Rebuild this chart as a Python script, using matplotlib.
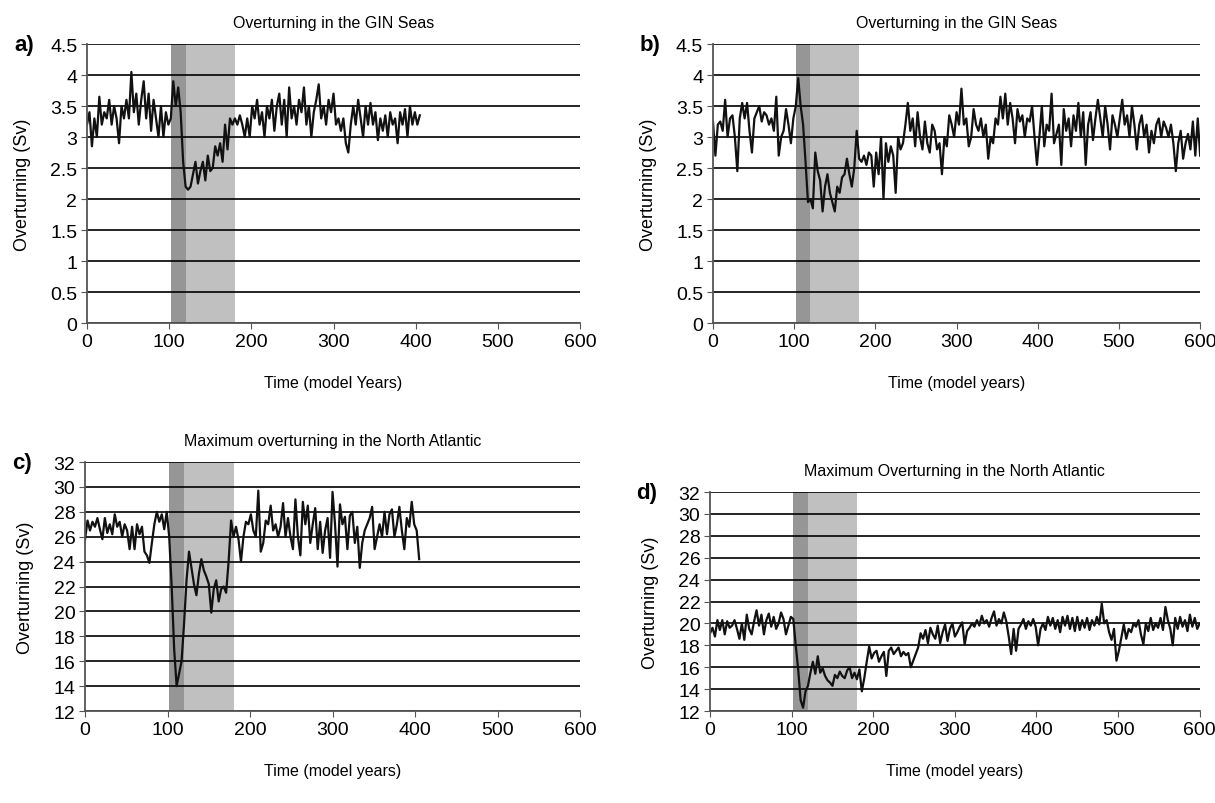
import numpy as np
import matplotlib
matplotlib.use("Agg")
import matplotlib.pyplot as plt

plt.rcParams['font.family'] = ['Liberation Sans', 'DejaVu Sans']

# overturning in the GIN seas, run a (every 3 model years)
gin_a = [3.2, 3.4, 2.85, 3.3, 3.0, 3.65, 3.2, 3.4, 3.3, 3.6, 3.2, 3.5, 3.3, 2.9, 3.5, 3.3,
         3.6, 3.3, 4.05, 3.4, 3.7, 3.2, 3.6, 3.9, 3.3, 3.7, 3.1, 3.6, 3.3, 3.0, 3.5, 3.0,
         3.4, 3.2, 3.3, 3.9, 3.5, 3.8, 3.4, 2.6, 2.2, 2.15, 2.2, 2.4, 2.6, 2.25, 2.45, 2.6,
         2.3, 2.7, 2.45, 2.5, 2.85, 2.7, 2.9, 2.6, 3.2, 2.8, 3.3, 3.2, 3.3, 3.2, 3.35, 3.2,
         3.0, 3.3, 3.0, 3.5, 3.3, 3.6, 3.2, 3.4, 3.0, 3.5, 3.3, 3.6, 3.1, 3.5, 3.7, 3.2,
         3.6, 3.0, 3.8, 3.3, 3.5, 3.2, 3.6, 3.4, 3.8, 3.2, 3.5, 3.0, 3.4, 3.6, 3.85, 3.3,
         3.5, 3.2, 3.6, 3.4, 3.7, 3.2, 3.3, 3.1, 3.3, 2.9, 2.75, 3.2, 3.5, 3.2, 3.6, 3.3,
         3.0, 3.5, 3.2, 3.55, 3.2, 3.4, 2.95, 3.3, 3.1, 3.35, 3.0, 3.4, 3.2, 3.3, 2.9, 3.4,
         3.2, 3.45, 3.0, 3.5, 3.2, 3.4, 3.2, 3.35]

# overturning in the GIN seas, run b
gin_b = [3.25, 2.7, 3.2, 3.25, 3.1, 3.6, 3.0, 3.3, 3.35, 3.0, 2.45, 3.3, 3.55, 3.3, 3.55, 3.1,
         2.75, 3.3, 3.4, 3.5, 3.25, 3.4, 3.35, 3.2, 3.3, 3.1, 3.65, 2.7, 3.0, 3.1, 3.45, 3.2,
         2.9, 3.3, 3.5, 3.95, 3.5, 3.2, 2.6, 1.95, 2.0, 1.85, 2.75, 2.45, 2.3, 1.8, 2.2, 2.4,
         2.1, 1.95, 1.8, 2.2, 2.1, 2.35, 2.4, 2.65, 2.4, 2.2, 2.5, 3.1, 2.65, 2.6, 2.7, 2.55,
         2.75, 2.7, 2.2, 2.75, 2.4, 3.0, 2.0, 2.9, 2.6, 2.85, 2.7, 2.1, 3.0, 2.8, 2.9, 3.2,
         3.55, 3.1, 3.3, 2.85, 3.4, 3.0, 2.8, 3.25, 2.9, 2.75, 3.2, 3.1, 2.8, 2.9, 2.4, 3.0,
         2.85, 3.35, 3.2, 3.0, 3.4, 3.2, 3.78, 3.2, 3.3, 2.85, 3.0, 3.45, 3.2, 3.1, 3.3, 3.0,
         3.2, 2.65, 3.0, 2.9, 3.3, 3.2, 3.65, 3.3, 3.7, 3.2, 3.55, 3.3, 2.9, 3.45, 3.25, 3.35,
         3.0, 3.3, 3.25, 3.5, 3.0, 2.55, 3.0, 3.5, 2.85, 3.2, 3.1, 3.7, 2.9, 3.05, 3.2, 2.55,
         3.45, 3.1, 3.3, 2.85, 3.35, 3.1, 3.55, 3.0, 3.4, 2.55, 3.2, 3.4, 2.95, 3.3, 3.6, 3.3,
         3.0, 3.5, 3.2, 2.8, 3.35, 3.2, 3.0, 3.3, 3.6, 3.2, 3.35, 3.0, 3.5, 3.2, 2.8, 3.2,
         3.35, 3.0, 3.2, 2.75, 3.1, 2.9, 3.2, 3.3, 3.0, 3.25, 3.15, 3.0, 3.2, 2.9, 2.45, 2.9,
         3.1, 2.65, 2.9, 3.05, 2.8, 3.25, 2.7, 3.3, 2.7]

# maximum overturning in the North Atlantic, run c
amoc_c = [25.8, 27.3, 26.5, 27.2, 26.8, 27.5, 26.6, 25.8, 27.5, 26.3, 27.0, 26.2, 27.8, 26.8,
          27.2, 26.0, 27.0, 26.5, 25.0, 26.8, 25.0, 27.0, 26.2, 26.8, 24.8, 24.5, 23.9, 25.5,
          27.0, 28.0, 27.2, 27.8, 26.6, 28.0, 26.0, 22.0, 17.0, 14.0, 15.0, 16.0, 19.0, 22.5,
          24.8, 23.5, 22.2, 21.3, 23.0, 24.2, 23.3, 22.8, 22.2, 19.9, 21.8, 22.5, 20.8, 21.8,
          22.0, 21.5, 24.0, 27.3, 26.0, 26.8, 25.8, 24.0, 26.0, 27.2, 27.0, 27.8, 26.5, 26.0,
          29.7, 24.8, 25.5, 27.3, 27.0, 28.5, 26.5, 27.0, 26.0, 26.8, 28.7, 26.0, 27.5, 26.0,
          25.0, 29.0, 26.0, 24.5, 28.8, 27.0, 28.5, 25.5, 27.0, 28.3, 25.0, 27.2, 24.7, 26.5,
          27.5, 24.3, 29.6, 27.0, 23.6, 28.6, 27.0, 27.6, 25.0, 27.7, 28.0, 25.5, 26.8, 23.5,
          25.5, 26.5, 27.0, 27.5, 28.4, 25.0, 26.0, 27.0, 26.0, 28.0, 26.2, 27.8, 28.2, 26.0,
          27.0, 28.4, 26.5, 25.0, 27.5, 26.8, 28.8, 27.0, 26.5, 24.2]

# maximum overturning in the North Atlantic, run d
amoc_d = [19.1, 19.6, 18.8, 20.3, 19.4, 20.3, 19.0, 20.2, 19.6, 19.8, 20.3, 19.5, 18.6, 20.0,
          18.5, 20.8, 19.5, 19.0, 20.2, 21.2, 19.8, 20.8, 19.0, 20.3, 20.9, 19.7, 20.6, 19.5,
          20.0, 21.0, 20.4, 19.0, 19.8, 20.6, 20.4, 18.0, 15.8, 13.0, 12.3, 13.8, 14.3, 15.5,
          16.5, 15.4, 17.0, 15.5, 15.9, 15.2, 14.8, 14.6, 14.3, 15.3, 15.0, 15.6, 15.2, 15.0,
          15.7, 16.0, 15.0, 15.5, 14.9, 15.8, 13.8, 15.0, 16.5, 17.9, 16.8, 17.3, 17.5, 16.5,
          17.0, 17.4, 15.2, 17.5, 17.8, 17.2, 17.5, 17.8, 17.0, 17.4, 17.1, 17.3, 16.0, 16.6,
          17.2, 17.8, 19.1, 18.6, 19.4, 18.2, 19.6, 19.0, 18.6, 19.8, 18.2, 19.2, 19.9, 18.4,
          19.5, 20.0, 18.8, 19.2, 19.7, 20.1, 18.1, 19.3, 19.6, 20.0, 19.7, 20.3, 19.8, 20.7,
          20.0, 20.3, 19.7, 20.5, 21.1, 19.8, 20.4, 20.0, 21.0, 20.2, 18.8, 17.2, 19.5, 17.5,
          19.5, 19.9, 20.4, 19.5, 20.2, 19.8, 20.4, 19.7, 18.0, 19.5, 20.0, 19.4, 20.6, 19.8,
          20.5, 19.5, 20.3, 19.2, 20.6, 19.8, 20.7, 19.5, 20.5, 19.3, 20.6, 19.4, 20.3, 19.6,
          20.5, 19.4, 20.3, 19.8, 20.6, 19.9, 21.8, 20.0, 20.3, 19.2, 18.5, 19.5, 16.6, 17.5,
          18.7, 19.9, 18.6, 19.5, 19.2, 20.0, 19.7, 20.3, 19.0, 18.1, 20.0, 19.3, 20.5, 19.4,
          20.0, 19.6, 20.5, 19.4, 21.5, 20.3, 19.5, 18.0, 20.5, 19.5, 20.6, 19.7, 20.3, 19.3,
          20.8, 19.7, 20.5, 19.5, 20.0]

step = 3
hosing = (102, 120)     # dark band
recovery = (120, 180)   # light band

panels = [
    ("a)", "Overturning in the GIN Seas", "Time (model Years)", gin_a,
     (0, 4.5), np.arange(0, 4.51, 0.5), ["0", "0.5", "1", "1.5", "2", "2.5", "3", "3.5", "4", "4.5"],
     [0.0716, 0.597, 0.4058, 0.347]),
    ("b)", "Overturning in the GIN Seas", "Time (model years)", gin_b,
     (0, 4.5), np.arange(0, 4.51, 0.5), ["0", "0.5", "1", "1.5", "2", "2.5", "3", "3.5", "4", "4.5"],
     [0.5868, 0.597, 0.401, 0.347]),
    ("c)", "Maximum overturning in the North Atlantic", "Time (model years)", amoc_c,
     (12, 32), np.arange(12, 33, 2), None,
     [0.070, 0.1144, 0.4074, 0.3097]),
    ("d)", "Maximum Overturning in the North Atlantic", "Time (model years)", amoc_d,
     (12, 32), np.arange(12, 33, 2), None,
     [0.5844, 0.1144, 0.403, 0.2724]),
]

fig = plt.figure(figsize=(12.15, 8.04), dpi=100)

for lab, title, xlab, vals, ylim, yt, ytl, pos in panels:
    ax = fig.add_axes(pos)
    years = np.arange(len(vals)) * step
    ax.axvspan(*hosing, color="#969696", lw=0)
    ax.axvspan(*recovery, color="#c0c0c0", lw=0)
    ax.plot(years, vals, color="#111111", lw=1.6)
    ax.set_xlim(0, 600)
    ax.set_ylim(*ylim)
    ax.set_xticks(np.arange(0, 601, 100))
    ax.set_yticks(yt)
    if ytl:
        ax.set_yticklabels(ytl)
    ax.yaxis.grid(True, color="black", lw=1.2)
    ax.tick_params(labelsize=14, direction="out", length=4, color="#555555", pad=3)
    for s in ["top", "right"]:
        ax.spines[s].set_visible(False)
    for s in ["left", "bottom"]:
        ax.spines[s].set_color("#555555")
        ax.spines[s].set_linewidth(1.3)
    ax.set_title(title, fontsize=11.5, pad=12)
    ax.set_xlabel(xlab, fontsize=11.5, labelpad=18)
    ax.set_ylabel("Overturning (Sv)", fontsize=13, labelpad=14)
    fig.text(pos[0] - 0.052, pos[1] + pos[3], lab, fontsize=16, fontweight="bold",
             va="center", ha="center")

fig.savefig("out.png", dpi=100)
